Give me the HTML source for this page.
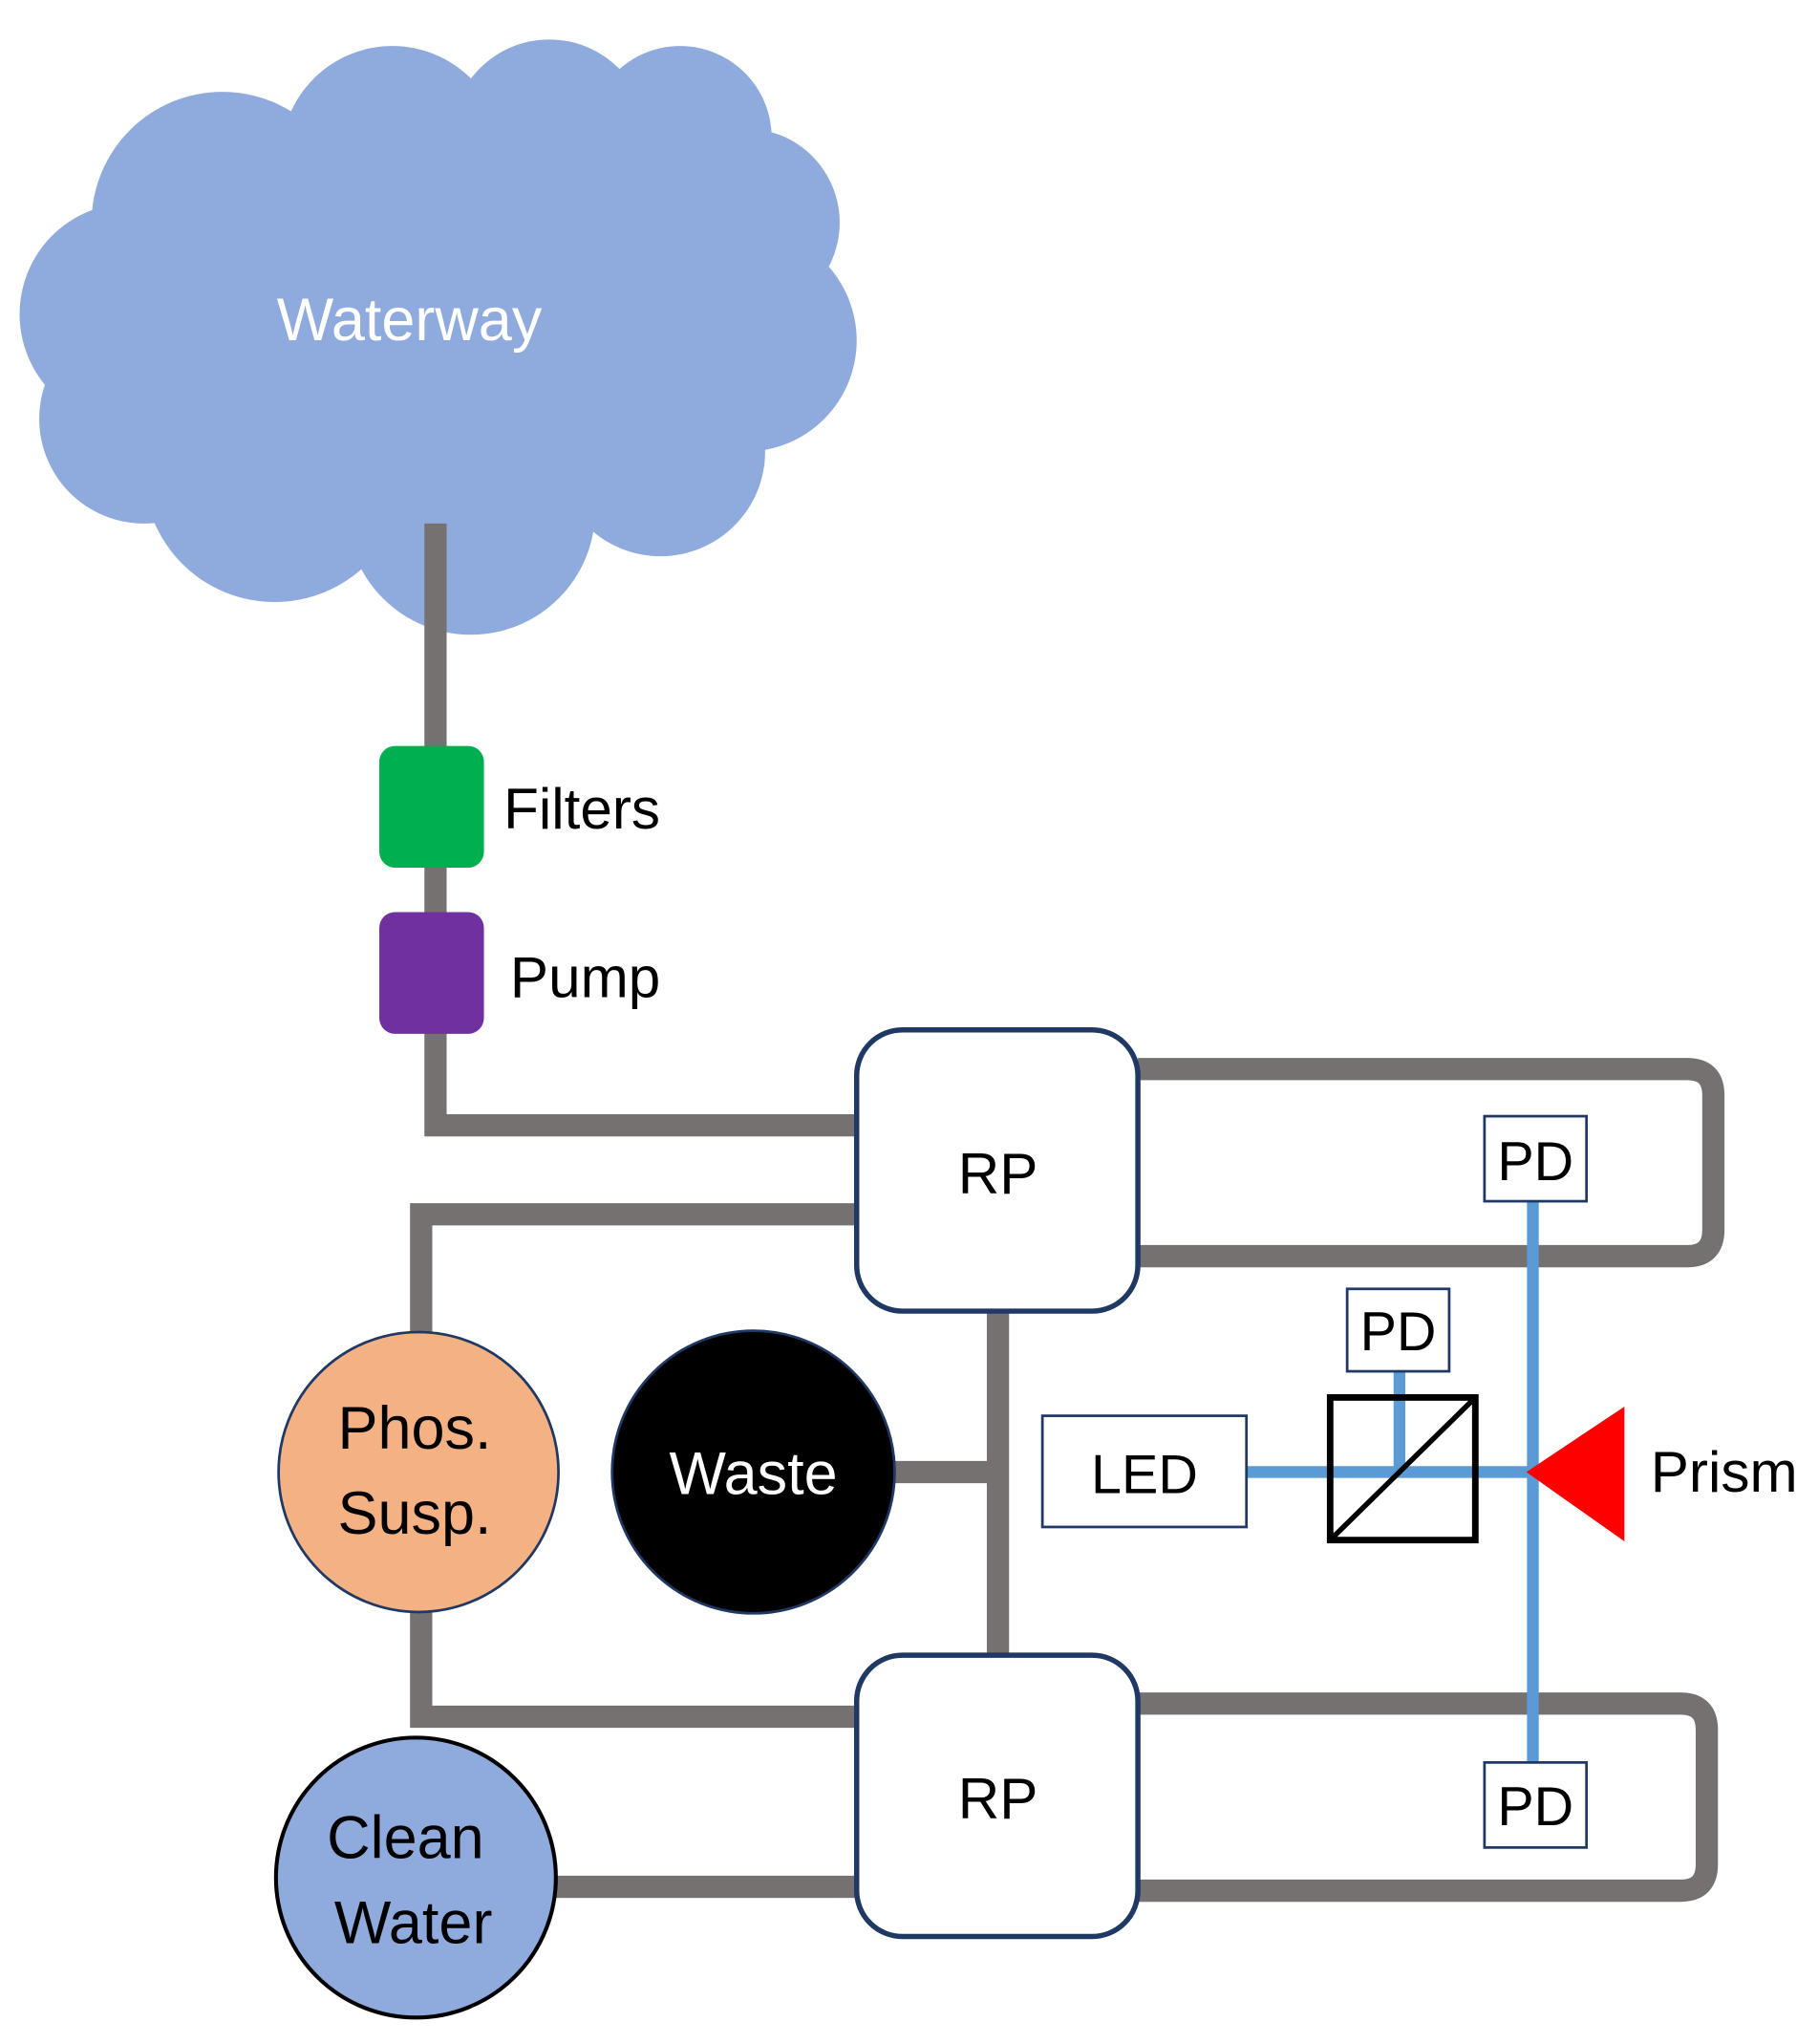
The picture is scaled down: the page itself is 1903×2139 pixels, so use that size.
<!DOCTYPE html>
<html><head><meta charset="utf-8"><style>html,body{margin:0;padding:0;background:#fff}svg{display:block}</style></head>
<body>
<svg width="1903" height="2139" viewBox="0 0 1390 1562" xmlns="http://www.w3.org/2000/svg" font-family="'Liberation Sans', sans-serif">
<g fill="#8faadc">
<circle cx="170" cy="170" r="100"/>
<circle cx="300" cy="120" r="85"/>
<circle cx="420" cy="105" r="75"/>
<circle cx="520" cy="105" r="70"/>
<circle cx="570" cy="170" r="72"/>
<circle cx="570" cy="260" r="85"/>
<circle cx="505" cy="345" r="80"/>
<circle cx="360" cy="390" r="95"/>
<circle cx="210" cy="360" r="100"/>
<circle cx="110" cy="320" r="80"/>
<circle cx="100" cy="240" r="85"/>
<ellipse cx="340" cy="250" rx="240" ry="170"/>
</g>
<text x="313" y="260" fill="#fff" font-size="46" text-anchor="middle">Waterway</text>
<g fill="none" stroke="#767171" stroke-width="17">
<polyline points="333,400 333,860 655,860"/>
<polyline points="655,928 322,928 322,1020"/>
<polyline points="322,1230 322,1312 655,1312"/>
<line x1="425" y1="1442" x2="655" y2="1442"/>
<line x1="763" y1="1002" x2="763" y2="1265"/>
<line x1="680" y1="1125" x2="763" y2="1125"/>
<path d="M870,817 H1290 Q1310,817 1310,837 V940 Q1310,960 1290,960 H870"/>
<path d="M870,1302 H1285 Q1305,1302 1305,1322 V1425 Q1305,1445 1285,1445 H870"/>
</g>
<rect x="290" y="570" width="80" height="93" rx="12" fill="#00b050"/>
<rect x="290" y="697" width="80" height="93" rx="12" fill="#7030a0"/>
<text x="385" y="633" font-size="44">Filters</text>
<text x="390" y="762" font-size="44">Pump</text>
<rect x="655" y="787" width="215" height="215" rx="35" fill="#fff" stroke="#1f3864" stroke-width="4"/>
<rect x="655" y="1265" width="215" height="215" rx="35" fill="#fff" stroke="#1f3864" stroke-width="4"/>
<text x="763" y="912" font-size="44" text-anchor="middle">RP</text>
<text x="763" y="1390" font-size="44" text-anchor="middle">RP</text>
<g stroke="#5b9bd5" stroke-width="9" fill="none">
<line x1="1172" y1="918" x2="1172" y2="1347"/>
<line x1="953" y1="1125" x2="1172" y2="1125"/>
<line x1="1070" y1="1048" x2="1070" y2="1125"/>
</g>
<rect x="1017" y="1068" width="111" height="109" fill="none" stroke="#000" stroke-width="5"/>
<line x1="1019" y1="1175" x2="1126" y2="1070" stroke="#000" stroke-width="4"/>
<g fill="#fff" stroke="#1f3864" stroke-width="2">
<rect x="1135" y="853" width="78" height="65"/>
<rect x="1135" y="1347" width="78" height="65"/>
<rect x="1030" y="985" width="78" height="63"/>
<rect x="797" y="1082" width="156" height="85"/>
</g>
<g font-size="42" text-anchor="middle">
<text x="1174" y="902">PD</text>
<text x="1174" y="1395">PD</text>
<text x="1069" y="1032">PD</text>
<text x="875" y="1141">LED</text>
</g>
<polygon points="1167,1125 1242,1075 1242,1178" fill="#ff0000"/>
<text x="1262" y="1140" font-size="44">Prism</text>
<circle cx="576" cy="1125" r="108" fill="#000" stroke="#1f3864" stroke-width="2"/>
<text x="576" y="1142" font-size="46" fill="#fff" text-anchor="middle">Waste</text>
<circle cx="320" cy="1125" r="107" fill="#f4b183" stroke="#1f3864" stroke-width="2"/>
<text x="317" y="1107" font-size="46" text-anchor="middle">Phos.</text>
<text x="317" y="1172" font-size="46" text-anchor="middle">Susp.</text>
<circle cx="318" cy="1435" r="107" fill="#8faadc" stroke="#000" stroke-width="3"/>
<text x="310" y="1420" font-size="46" text-anchor="middle">Clean</text>
<text x="316" y="1485" font-size="46" text-anchor="middle">Water</text>
</svg>
</body></html>
